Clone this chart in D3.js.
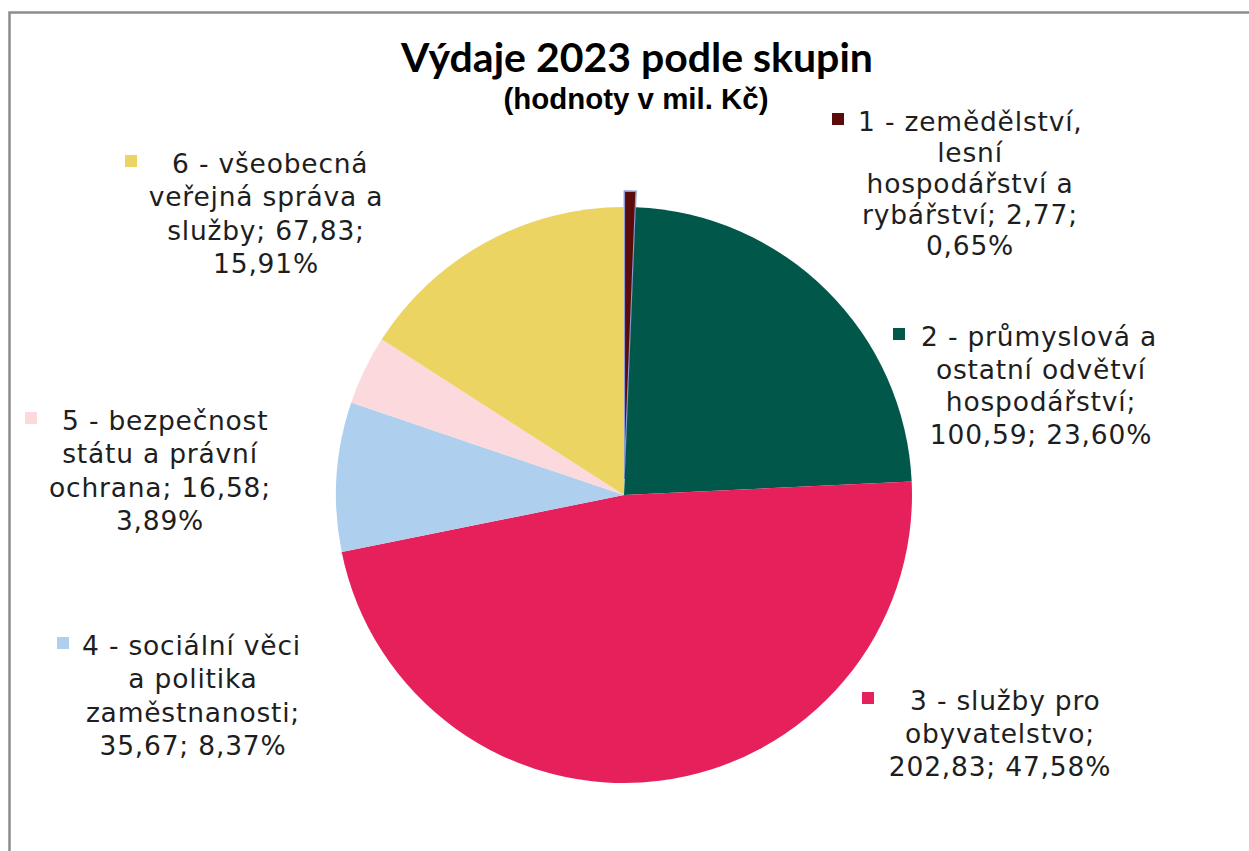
<!DOCTYPE html>
<html>
<head>
<meta charset="utf-8">
<script src="https://cdn.jsdelivr.net/npm/d3@7"></script>
<style>
  html, body { margin: 0; padding: 0; background: #fff; }
  svg { display: block; }
</style>
</head>
<body>
<div id="chart"></div>
<script>
// Data (hodnoty v mil. Kč)
const groups = [
  "1 - zemědělství, lesní hospodářství a rybářství",
  "2 - průmyslová a ostatní odvětví hospodářství",
  "3 - služby pro obyvatelstvo",
  "4 - sociální věci a politika zaměstnanosti",
  "5 - bezpečnost státu a právní ochrana",
  "6 - všeobecná veřejná správa a služby"
]
const values = [2.77, 100.59, 202.83, 35.67, 16.58, 67.83]
const percents = ["0,65", "23,60", "47,58", "8,37", "3,89", "15,91"]
const colors = ["#5c0b0b", "#00574a", "#e6205a", "#afcfee", "#fbd9dc", "#ebd462"]

// label text broken into lines the way the chart shows them
const labelLines = [
  ["1 - zemědělství,", "lesní", "hospodářství a", "rybářství; 2,77;", "0,65%"],
  ["2 - průmyslová a", "ostatní odvětví", "hospodářství;", "100,59; 23,60%"],
  ["3 - služby pro", "obyvatelstvo;", "202,83; 47,58%"],
  ["4 - sociální věci", "a politika", "zaměstnanosti;", "35,67; 8,37%"],
  ["5 - bezpečnost", "státu a právní", "ochrana; 16,58;", "3,89%"],
  ["6 - všeobecná", "veřejná správa a", "služby; 67,83;", "15,91%"]
]

// layout of the label blocks: marker x, first text x, centre of other lines, first baseline, line step
const labelLayout = [
  {mx: 832, tx: 858, cx: 970, y: 131, step: 31},
  {mx: 893, tx: 921, cx: 1041, y: 346, step: 32.5},
  {mx: 862, tx: 910, cx: 1000, y: 710, step: 33},
  {mx: 57, tx: 82, cx: 193, y: 655, step: 33.3},
  {mx: 25, tx: 62, cx: 160, y: 430, step: 33.3},
  {mx: 125, tx: 172, cx: 266, y: 173, step: 33.3}
]

const width = 1249, height = 851
const cx = 624, cy = 495, radius = 288
const explode = 16   // first slice is pulled out of the pie

const svg = d3.select("#chart")
  .append("svg")
  .attr("width", width)
  .attr("height", height)

// chart frame
svg.append("rect")
  .attr("x", 9.5)
  .attr("y", 12.5)
  .attr("width", 1300)
  .attr("height", 900)
  .attr("fill", "#fff")
  .attr("stroke", "#8c8c8c")
  .attr("stroke-width", 2.5)

// title
const title = svg.append("text")
  .attr("x", 637)
  .attr("y", 72)
  .attr("text-anchor", "middle")
  .attr("font-family", "Lato, 'Open Sans', sans-serif")
  .attr("font-weight", "bold")
  .attr("font-size", 34)
  .attr("fill", "#000")
  .text("Výdaje 2023 podle skupin")
// fit to the width seen in the picture
let tw = title.node().getComputedTextLength()
title.attr("font-size", 34 * 472 / tw)

const subtitle = svg.append("text")
  .attr("x", 636)
  .attr("y", 109)
  .attr("text-anchor", "middle")
  .attr("font-family", "'Liberation Sans', Arial, sans-serif")
  .attr("font-weight", "bold")
  .attr("font-size", 22)
  .attr("fill", "#000")
  .text("(hodnoty v mil. Kč)")
tw = subtitle.node().getComputedTextLength()
subtitle.attr("font-size", 22 * 265 / tw)

// pie
const pie = d3.pie().sort(null).value(d => d)
const arc = d3.arc().innerRadius(0).outerRadius(radius)
const arcs = pie(values)

const g = svg.append("g")
  .attr("transform", `translate(${cx},${cy})`)

g.selectAll("path")
  .data(arcs)
  .join("path")
  .attr("d", arc)
  .attr("transform", (d, i) => {
    if (i !== 0) return null
    const a = (d.startAngle + d.endAngle) / 2
    return `translate(${explode * Math.sin(a)},${-explode * Math.cos(a)})`
  })
  .attr("fill", (d, i) => colors[i])
  .attr("stroke", (d, i) => i === 0 ? "#8e9ad6" : "none")
  .attr("stroke-width", (d, i) => i === 0 ? 1.5 : 0)

// data labels
const labels = svg.append("g")
  .attr("font-family", "'DejaVu Sans', Verdana, sans-serif")
  .attr("font-size", 26.5)
  .attr("letter-spacing", 0.8)
  .attr("fill", "#1e1e1e")

labelLines.forEach((lines, i) => {
  const L = labelLayout[i]
  const lab = labels.append("g").attr("class", "data-label")

  lab.append("rect")
    .attr("x", L.mx)
    .attr("y", L.y - 18)
    .attr("width", 12)
    .attr("height", 12)
    .attr("fill", colors[i])

  lab.selectAll("text")
    .data(lines)
    .join("text")
    .attr("x", (d, j) => j === 0 ? L.tx : L.cx)
    .attr("y", (d, j) => L.y + j * L.step)
    .attr("text-anchor", (d, j) => j === 0 ? "start" : "middle")
    .text(d => d)
})
</script>
</body>
</html>
